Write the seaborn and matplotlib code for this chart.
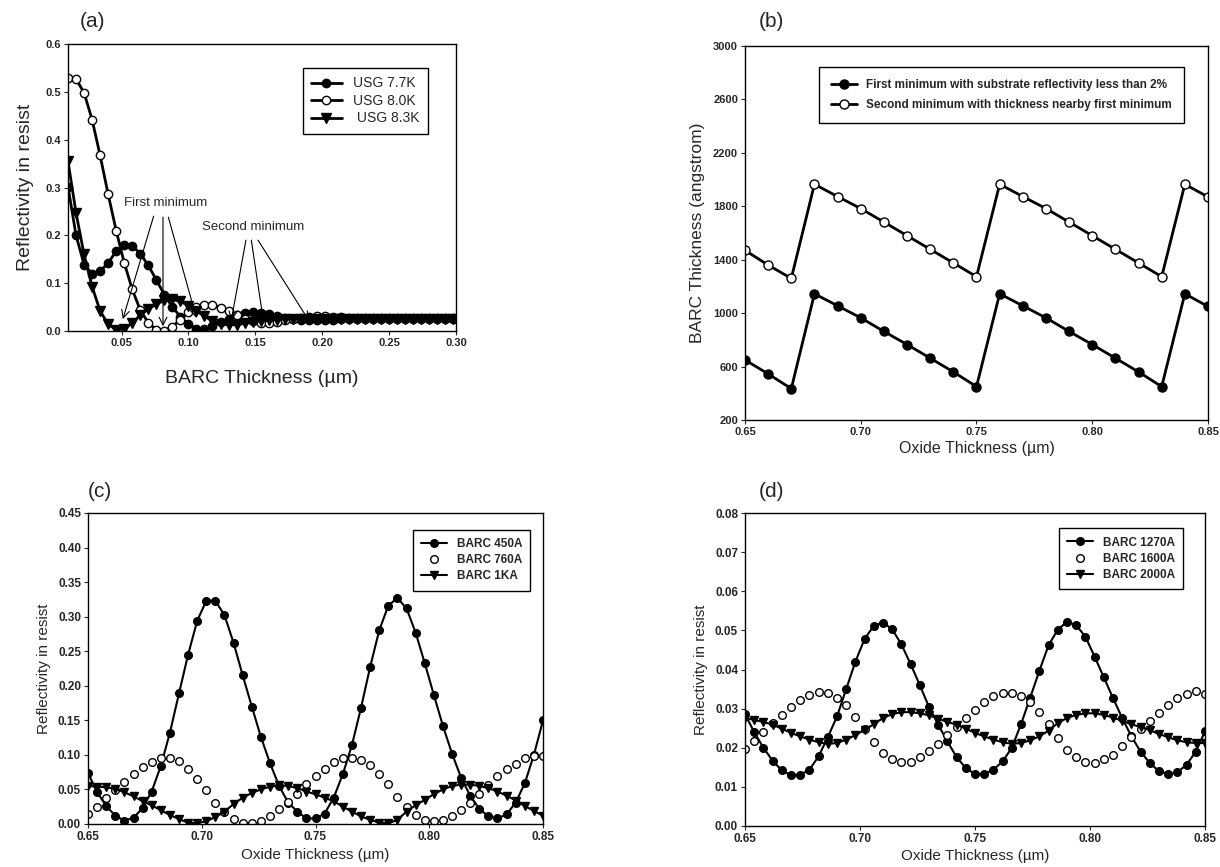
import matplotlib
matplotlib.use("Agg")
import matplotlib.pyplot as plt
import seaborn as sns
from matplotlib.ticker import FormatStrFormatter

# ---- (a) reflectivity vs BARC thickness ----
barc_thk = [0.010, 0.016, 0.022, 0.028, 0.034, 0.040, 0.046, 0.052, 0.058, 0.064,
            0.070, 0.076, 0.082, 0.088, 0.094, 0.100, 0.106, 0.112, 0.118, 0.124,
            0.130, 0.136, 0.142, 0.148, 0.154, 0.160, 0.166, 0.172, 0.178, 0.184,
            0.190, 0.196, 0.202, 0.208, 0.214, 0.220, 0.226, 0.232, 0.238, 0.244,
            0.250, 0.256, 0.262, 0.268, 0.274, 0.280, 0.286, 0.292, 0.298]
usg_77 = [0.302, 0.200, 0.139, 0.120, 0.125, 0.142, 0.167, 0.179, 0.178, 0.162,
          0.137, 0.107, 0.076, 0.050, 0.030, 0.014, 0.005, 0.004, 0.010, 0.018,
          0.026, 0.033, 0.038, 0.040, 0.038, 0.035, 0.031, 0.028, 0.025, 0.023,
          0.022, 0.022, 0.023, 0.024, 0.025, 0.026, 0.026, 0.026, 0.026, 0.026,
          0.026, 0.026, 0.026, 0.026, 0.026, 0.026, 0.026, 0.026, 0.026]
usg_80 = [0.528, 0.527, 0.498, 0.442, 0.367, 0.286, 0.210, 0.143, 0.087, 0.044,
          0.017, 0.003, 0.001, 0.009, 0.024, 0.040, 0.051, 0.055, 0.054, 0.049,
          0.042, 0.034, 0.026, 0.020, 0.017, 0.017, 0.019, 0.022, 0.025, 0.028,
          0.030, 0.031, 0.031, 0.030, 0.029, 0.028, 0.028, 0.027, 0.027, 0.027,
          0.027, 0.027, 0.027, 0.027, 0.027, 0.027, 0.027, 0.027, 0.027]
usg_83 = [0.355, 0.247, 0.160, 0.093, 0.042, 0.014, 0.003, 0.004, 0.017, 0.033,
          0.046, 0.056, 0.064, 0.066, 0.062, 0.053, 0.042, 0.031, 0.021, 0.015,
          0.013, 0.013, 0.016, 0.018, 0.021, 0.023, 0.024, 0.025, 0.025, 0.025,
          0.025, 0.025, 0.025, 0.025, 0.025, 0.025, 0.025, 0.025, 0.025, 0.025,
          0.025, 0.025, 0.025, 0.025, 0.025, 0.025, 0.025, 0.025, 0.025]

# annotation arrows in (a): (start, end)
first_arrows = [((0.074, 0.240), (0.051, 0.025)),
                ((0.081, 0.238), (0.081, 0.010)),
                ((0.085, 0.238), (0.106, 0.027))]
second_arrows = [((0.143, 0.190), (0.132, 0.022)),
                 ((0.147, 0.190), (0.156, 0.022)),
                 ((0.152, 0.190), (0.190, 0.022))]

# ---- (b) BARC thickness at minima vs oxide thickness ----
oxide_b = [0.65, 0.66, 0.67, 0.68, 0.69, 0.70, 0.71, 0.72, 0.73, 0.74, 0.75,
           0.76, 0.77, 0.78, 0.79, 0.80, 0.81, 0.82, 0.83, 0.84, 0.85]
first_min = [650, 545, 435, 1145, 1055, 965, 863, 765, 663, 560, 450,
             1145, 1055, 965, 863, 765, 663, 560, 450, 1145, 1050]
second_min = [1470, 1360, 1260, 1965, 1873, 1783, 1682, 1580, 1478, 1376, 1273,
              1965, 1873, 1783, 1682, 1580, 1478, 1376, 1273, 1965, 1870]

# ---- (c), (d) reflectivity vs oxide thickness ----
oxide_cd = [0.650, 0.654, 0.658, 0.662, 0.666, 0.670, 0.674, 0.678, 0.682, 0.686,
            0.690, 0.694, 0.698, 0.702, 0.706, 0.710, 0.714, 0.718, 0.722, 0.726,
            0.730, 0.734, 0.738, 0.742, 0.746, 0.750, 0.754, 0.758, 0.762, 0.766,
            0.770, 0.774, 0.778, 0.782, 0.786, 0.790, 0.794, 0.798, 0.802, 0.806,
            0.810, 0.814, 0.818, 0.822, 0.826, 0.830, 0.834, 0.838, 0.842, 0.846, 0.850]
barc_450 = [0.074, 0.046, 0.026, 0.012, 0.005, 0.009, 0.023, 0.047, 0.084, 0.132,
            0.189, 0.245, 0.294, 0.323, 0.323, 0.302, 0.262, 0.215, 0.170, 0.126,
            0.088, 0.055, 0.031, 0.018, 0.008, 0.008, 0.015, 0.038, 0.072, 0.114,
            0.168, 0.227, 0.280, 0.316, 0.327, 0.312, 0.277, 0.233, 0.187, 0.142,
            0.102, 0.067, 0.041, 0.022, 0.011, 0.008, 0.014, 0.031, 0.059, 0.100, 0.150]
barc_760 = [0.014, 0.025, 0.037, 0.049, 0.061, 0.072, 0.082, 0.090, 0.095, 0.095,
            0.091, 0.080, 0.065, 0.049, 0.031, 0.017, 0.007, 0.001, 0.001, 0.005,
            0.012, 0.022, 0.032, 0.044, 0.058, 0.069, 0.080, 0.089, 0.095, 0.096,
            0.092, 0.086, 0.073, 0.058, 0.039, 0.025, 0.013, 0.006, 0.005, 0.006,
            0.012, 0.020, 0.031, 0.044, 0.057, 0.070, 0.079, 0.087, 0.095, 0.098, 0.098]
barc_1k = [0.055, 0.054, 0.053, 0.051, 0.046, 0.040, 0.033, 0.027, 0.020, 0.013,
           0.007, 0.002, 0.001, 0.004, 0.010, 0.018, 0.029, 0.038, 0.045, 0.050,
           0.054, 0.056, 0.055, 0.052, 0.047, 0.043, 0.038, 0.033, 0.025, 0.018,
           0.011, 0.006, 0.002, 0.001, 0.006, 0.018, 0.027, 0.035, 0.043, 0.050,
           0.055, 0.057, 0.057, 0.055, 0.052, 0.047, 0.041, 0.034, 0.026, 0.019, 0.012]
barc_1270 = [0.0286, 0.0240, 0.0200, 0.0167, 0.0142, 0.0130, 0.0131, 0.0144, 0.0178, 0.0227,
             0.0280, 0.0350, 0.0420, 0.0478, 0.0512, 0.0520, 0.0503, 0.0464, 0.0414, 0.0360,
             0.0304, 0.0259, 0.0216, 0.0176, 0.0148, 0.0133, 0.0133, 0.0144, 0.0165, 0.0200,
             0.0260, 0.0328, 0.0397, 0.0462, 0.0502, 0.0522, 0.0513, 0.0484, 0.0433, 0.0380,
             0.0327, 0.0276, 0.0229, 0.0190, 0.0161, 0.0140, 0.0133, 0.0137, 0.0157, 0.0190, 0.0242]
barc_1600 = [0.0198, 0.0218, 0.0240, 0.0263, 0.0284, 0.0303, 0.0322, 0.0335, 0.0342, 0.0339,
             0.0327, 0.0308, 0.0279, 0.0248, 0.0214, 0.0187, 0.0170, 0.0163, 0.0164, 0.0176,
             0.0191, 0.0210, 0.0232, 0.0253, 0.0277, 0.0297, 0.0316, 0.0331, 0.0339, 0.0339,
             0.0333, 0.0316, 0.0291, 0.0260, 0.0225, 0.0195, 0.0176, 0.0164, 0.0161, 0.0170,
             0.0182, 0.0204, 0.0227, 0.0249, 0.0269, 0.0288, 0.0310, 0.0327, 0.0337, 0.0344, 0.0337]
barc_2000 = [0.0277, 0.0271, 0.0266, 0.0259, 0.0249, 0.0238, 0.0229, 0.0221, 0.0214, 0.0210,
             0.0212, 0.0221, 0.0232, 0.0246, 0.0260, 0.0276, 0.0286, 0.0291, 0.0291, 0.0288,
             0.0283, 0.0274, 0.0266, 0.0259, 0.0249, 0.0238, 0.0229, 0.0221, 0.0214, 0.0210,
             0.0212, 0.0219, 0.0229, 0.0244, 0.0263, 0.0276, 0.0284, 0.0288, 0.0288, 0.0284,
             0.0277, 0.0269, 0.0260, 0.0253, 0.0245, 0.0235, 0.0227, 0.0219, 0.0214, 0.0212, 0.0212]

sns.set_style("ticks")
plt.rcParams["font.family"] = ["Liberation Sans", "DejaVu Sans"]
plt.rcParams["axes.edgecolor"] = "black"
plt.rcParams["axes.linewidth"] = 1.0

W, H = 1220, 867
fig = plt.figure(figsize=(12.2, 8.67), dpi=100)


def add_ax(l, t, r, b):
    return fig.add_axes([l / W, 1 - b / H, (r - l) / W, (b - t) / H])


def series(ax, x, y, label, marker="o", face="black", ms=5, lw=1.5, line=True):
    sns.lineplot(x=x, y=y, ax=ax, color="black", lw=lw if line else 0,
                 linestyle="-" if line else "", marker=marker, markersize=ms,
                 markerfacecolor=face, markeredgecolor="black",
                 markeredgewidth=1.0, label=label)


def style_ax(ax, ticksize=8.5):
    ax.tick_params(direction="out", length=3, width=0.8, labelsize=ticksize, pad=2)
    for t in ax.get_xticklabels() + ax.get_yticklabels():
        t.set_fontweight("bold")
    for s in ax.spines.values():
        s.set_visible(True)
        s.set_color("black")


def box_legend(ax, fs, bold=False, **kw):
    leg = ax.legend(prop={"size": fs, "weight": "bold" if bold else "normal"},
                    frameon=True, fancybox=False, framealpha=1, **kw)
    leg.get_frame().set_edgecolor("black")
    leg.get_frame().set_linewidth(1.0)
    return leg


# (a)
ax = add_ax(68, 44, 456, 331)
series(ax, barc_thk, usg_77, "USG 7.7K", ms=6, lw=2)
series(ax, barc_thk, usg_80, "USG 8.0K", face="white", ms=6, lw=2)
series(ax, barc_thk, usg_83, " USG 8.3K", marker="v", ms=6.5, lw=2)
ax.set_xlim(0.01, 0.30)
ax.set_ylim(0, 0.6)
ax.set_xticks([0.05, 0.10, 0.15, 0.20, 0.25, 0.30])
ax.set_yticks([0.0, 0.1, 0.2, 0.3, 0.4, 0.5, 0.6])
ax.xaxis.set_major_formatter(FormatStrFormatter("%.2f"))
ax.yaxis.set_major_formatter(FormatStrFormatter("%.1f"))
ax.set_xlabel("BARC Thickness (\u00b5m)", fontsize=14, labelpad=16)
ax.set_ylabel("Reflectivity in resist", fontsize=14, labelpad=8)
style_ax(ax, 8)
box_legend(ax, 10, loc="upper right", bbox_to_anchor=(0.945, 0.94),
           handlelength=2.2, borderpad=0.6, labelspacing=0.25)
ax.text(0.052, 0.262, "First minimum", fontsize=9.5)
ax.text(0.110, 0.212, "Second minimum", fontsize=9.5)
for start, end in first_arrows + second_arrows:
    ax.annotate("", xy=end, xytext=start,
                arrowprops=dict(arrowstyle="->", lw=0.8, color="black",
                                shrinkA=0, shrinkB=0, mutation_scale=14))
ax.text(0.03, 1.06, "(a)", transform=ax.transAxes, fontsize=15)

# (b)
ax = add_ax(745, 46, 1208, 420)
series(ax, oxide_b, first_min, "First minimum with substrate reflectivity less than 2%", ms=6.5, lw=2)
series(ax, oxide_b, second_min, "Second minimum with thickness nearby first minimum", face="white", ms=6.5, lw=2)
ax.set_xlim(0.65, 0.85)
ax.set_ylim(200, 3000)
ax.set_xticks([0.65, 0.70, 0.75, 0.80, 0.85])
ax.set_yticks(list(range(200, 3001, 400)))
ax.xaxis.set_major_formatter(FormatStrFormatter("%.2f"))
ax.set_xlabel("Oxide Thickness (\u00b5m)", fontsize=11.5, labelpad=3)
ax.set_ylabel("BARC Thickness (angstrom)", fontsize=12.5, labelpad=6)
style_ax(ax, 8)
box_legend(ax, 8.5, bold=True, loc="upper right", bbox_to_anchor=(0.96, 0.96),
           handlelength=2.2, borderpad=1.0, labelspacing=0.7)
ax.text(0.03, 1.05, "(b)", transform=ax.transAxes, fontsize=15)

# (c)
ax = add_ax(88, 513, 543, 824)
series(ax, oxide_cd, barc_450, "BARC 450A", ms=5.5)
series(ax, oxide_cd, barc_760, "BARC 760A", face="white", ms=5.5, line=False)
series(ax, oxide_cd, barc_1k, "BARC 1KA", marker="v", ms=6)
ax.set_xlim(0.65, 0.85)
ax.set_ylim(0, 0.45)
ax.set_xticks([0.65, 0.70, 0.75, 0.80, 0.85])
ax.set_yticks([i * 0.05 for i in range(10)])
ax.xaxis.set_major_formatter(FormatStrFormatter("%.2f"))
ax.yaxis.set_major_formatter(FormatStrFormatter("%.2f"))
ax.set_xlabel("Oxide Thickness (\u00b5m)", fontsize=11, labelpad=4)
ax.set_ylabel("Reflectivity in resist", fontsize=11, labelpad=5)
style_ax(ax)
box_legend(ax, 8.5, bold=True, loc="upper right", bbox_to_anchor=(0.985, 0.965),
           handlelength=2.2, borderpad=0.7, labelspacing=0.35)
ax.text(0.0, 1.05, "(c)", transform=ax.transAxes, fontsize=15)

# (d)
ax = add_ax(745, 513, 1205, 826)
series(ax, oxide_cd, barc_1270, "BARC 1270A", ms=5.5)
series(ax, oxide_cd, barc_1600, "BARC 1600A", face="white", ms=5.5, line=False)
series(ax, oxide_cd, barc_2000, "BARC 2000A", marker="v", ms=6)
ax.set_xlim(0.65, 0.85)
ax.set_ylim(0, 0.08)
ax.set_xticks([0.65, 0.70, 0.75, 0.80, 0.85])
ax.set_yticks([i * 0.01 for i in range(9)])
ax.xaxis.set_major_formatter(FormatStrFormatter("%.2f"))
ax.yaxis.set_major_formatter(FormatStrFormatter("%.2f"))
ax.set_xlabel("Oxide Thickness (\u00b5m)", fontsize=11, labelpad=3)
ax.set_ylabel("Reflectivity in resist", fontsize=11, labelpad=5)
style_ax(ax)
box_legend(ax, 8.5, bold=True, loc="upper right", bbox_to_anchor=(0.965, 0.97),
           handlelength=2.2, borderpad=0.7, labelspacing=0.35)
ax.text(0.03, 1.05, "(d)", transform=ax.transAxes, fontsize=15)

fig.savefig("out.png", dpi=100, facecolor="white")
